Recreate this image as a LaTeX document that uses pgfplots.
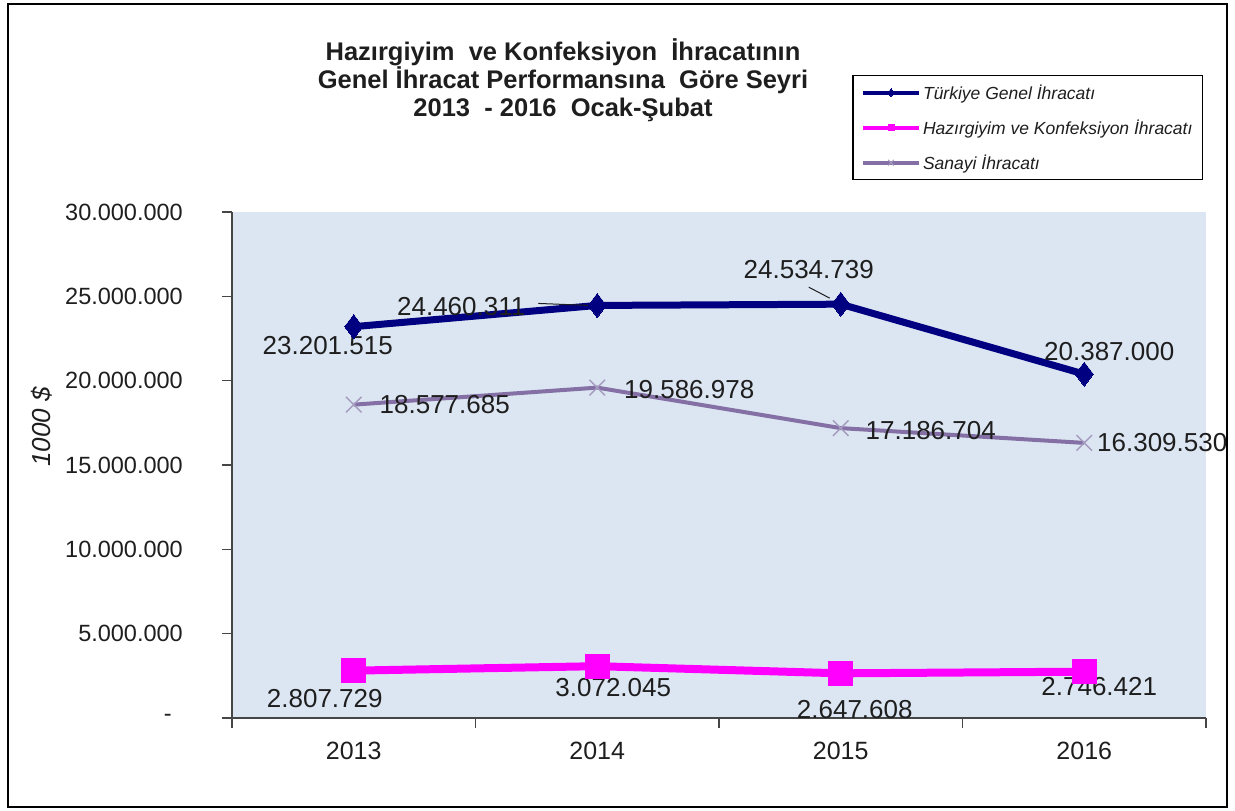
\documentclass[border=0pt]{standalone}
\usepackage{pgfplots}
\pgfplotsset{compat=1.18}
\usepackage{fontspec}
\setmainfont{Liberation Sans}

\definecolor{navyline}{RGB}{0,0,128}
\definecolor{magline}{RGB}{255,0,255}
\definecolor{sanline}{RGB}{132,112,165}
\definecolor{sanmark}{RGB}{165,155,190}
\definecolor{plotbg}{RGB}{220,230,242}
\definecolor{axisgray}{RGB}{70,70,70}
\definecolor{txt}{RGB}{30,30,30}

\newcommand{\fs}[1]{\fontsize{#1}{#1}\selectfont}
\newcommand{\xl}[1]{\hbox{\fs{25}#1}}
\tikzset{lbl/.style={font=\fs{26}, inner sep=0pt, text=txt},
         ylbl/.style={font=\fs{23.5}, inner sep=0pt, text=txt, anchor=east, xshift=-49pt}}

\begin{document}
\begin{tikzpicture}
\useasboundingbox (0,0) rectangle (1235pt,811pt);
\draw[line width=1.5pt] (8pt,4pt) rectangle (1227pt,807pt);

% title
\node[font=\bfseries\fontsize{25.5}{28}\selectfont, align=center, text=txt] at (563pt,731pt)
  {Hazırgiyim\ \ ve Konfeksiyon\ \ İhracatının\\
   Genel İhracat Performansına\ \ Göre Seyri\\
   2013\ \ - 2016\ \ Ocak-Şubat};

% y label
\node[rotate=90, font=\itshape\fs{26}, text=txt] at (42pt,384pt) {1000 \$};

\begin{axis}[
  at={(232pt,93pt)}, anchor=south west,
  scale only axis, width=974pt, height=506pt,
  xmin=-0.5, xmax=3.5, ymin=0, ymax=30000000,
  axis lines*=left,
  axis line style={axisgray, line width=1.3pt},
  axis background/.style={fill=plotbg},
  tick align=outside,
  tick style={axisgray, line width=1.3pt},
  major tick length=10pt,
  xtick={-0.5,0.5,1.5,2.5,3.5},
  xticklabels={,,,,},
  extra x ticks={0,1,2,3},
  extra x tick labels={\xl{2013},\xl{2014},\xl{2015},\xl{2016}},
  extra x tick style={major tick length=0pt,
    xticklabel style={text=txt, inner sep=0pt, yshift=-24pt}},
  ytick={0,5000000,10000000,15000000,20000000,25000000,30000000},
  yticklabels={,,,,,,},
  scaled y ticks=false,
  clip=false,
  legend image code/.code={\draw[mark repeat=2,mark phase=2,#1]
      plot coordinates {(0pt,0pt) (28pt,0pt) (56pt,0pt)};},
  legend style={at={(0.997,1.2708)}, anchor=north east, draw=black,
    line width=1.2pt, fill=white, font=\itshape\fs{17.5},
    inner xsep=8pt, inner ysep=7pt, row sep=15pt,
    nodes={inner sep=2pt, text=txt}},
  legend cell align=left,
]

\addlegendimage{navyline, line width=4pt, mark=diamond*, mark size=4pt, mark options={line width=0pt}}
\addlegendentry{Türkiye Genel İhracatı}
\addlegendimage{magline, line width=4pt, mark=square*, mark size=3pt, mark options={line width=0pt}}
\addlegendentry{Hazırgiyim ve Konfeksiyon İhracatı}
\addlegendimage{sanline, line width=4pt, mark=x, mark size=4pt, mark options={sanmark, line width=1pt}}
\addlegendentry{Sanayi İhracatı}

% Sanayi
\addplot[forget plot, sanline, line width=4pt, line join=round, mark=x, mark size=11pt,
  mark options={sanmark, line width=1.5pt}]
  coordinates {(0,18577685) (1,19586978) (2,17186704) (3,16309530)};
% Türkiye
\addplot[forget plot, navyline, line width=7pt, line join=round, mark=diamond*, mark size=12pt,
  mark options={line width=0pt}]
  coordinates {(0,23201515) (1,24460311) (2,24534739) (3,20387000)};
% Hazirgiyim
\addplot[forget plot, magline, line width=8pt, line join=round, mark=square*, mark size=12pt,
  mark options={line width=0pt}]
  coordinates {(0,2807729) (1,3072045) (2,2647608) (3,2746421)};

% y tick labels
\node[ylbl, xshift=-11pt] at (axis cs:-0.5,0) {-};
\node[ylbl] at (axis cs:-0.5,5000000) {5.000.000};
\node[ylbl] at (axis cs:-0.5,10000000) {10.000.000};
\node[ylbl] at (axis cs:-0.5,15000000) {15.000.000};
\node[ylbl] at (axis cs:-0.5,20000000) {20.000.000};
\node[ylbl] at (axis cs:-0.5,25000000) {25.000.000};
\node[ylbl] at (axis cs:-0.5,30000000) {30.000.000};

% leader lines
\draw[txt, line width=1pt] ([xshift=-59pt,yshift=2pt]axis cs:1,24460311) -- ([xshift=-8pt,yshift=0pt]axis cs:1,24460311);
\draw[txt, line width=1pt] ([xshift=-32pt,yshift=17pt]axis cs:2,24534739) -- ([xshift=-11pt,yshift=6pt]axis cs:2,24534739);

% data labels
\node[lbl, xshift=-26pt, yshift=-19pt] at (axis cs:0,23201515) {23.201.515};
\node[lbl, xshift=-136pt, yshift=-1pt] at (axis cs:1,24460311) {24.460.311};
\node[lbl, xshift=-32pt, yshift=35pt] at (axis cs:2,24534739) {24.534.739};
\node[lbl, xshift=25pt, yshift=23pt] at (axis cs:3,20387000) {20.387.000};

\node[lbl, xshift=91pt, yshift=0pt] at (axis cs:0,18577685) {18.577.685};
\node[lbl, xshift=92pt, yshift=-2pt] at (axis cs:1,19586978) {19.586.978};
\node[lbl, xshift=90pt, yshift=-2pt] at (axis cs:2,17186704) {17.186.704};
\node[lbl, xshift=78pt, yshift=0pt] at (axis cs:3,16309530) {16.309.530};

\node[lbl, xshift=-29pt, yshift=-28pt] at (axis cs:0,2807729) {2.807.729};
\node[lbl, xshift=16pt, yshift=-21pt] at (axis cs:1,3072045) {3.072.045};
\node[lbl, xshift=14pt, yshift=-36pt] at (axis cs:2,2647608) {2.647.608};
\node[lbl, xshift=15pt, yshift=-15pt] at (axis cs:3,2746421) {2.746.421};
\end{axis}
\end{tikzpicture}
\end{document}
